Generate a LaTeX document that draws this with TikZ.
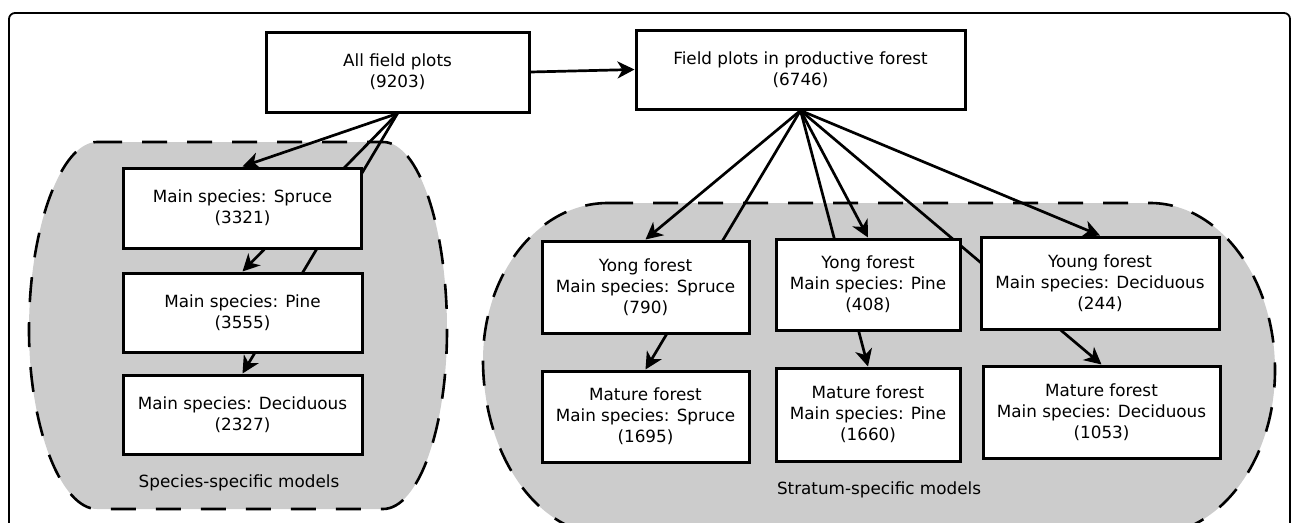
\documentclass[tikz,border=0pt]{standalone}
\usepackage{fontspec}
\setmainfont{DejaVu Sans}
\usetikzlibrary{arrows.meta}
\definecolor{regiongray}{HTML}{CCCCCC}
\pgfdeclarelayer{bg}
\pgfdeclarelayer{edges}
\pgfsetlayers{bg,edges,main}
\begin{document}
\begin{tikzpicture}[x=1pt,y=-1pt,
  font=\fontsize{16.8}{21}\selectfont,
  box/.style={draw, line width=3pt, fill=white, inner sep=0pt, align=center},
  arr/.style={line width=2.7pt, -{Stealth[length=17pt,width=17pt,inset=5pt]}},
  region/.style={fill=regiongray, draw=black, line width=2.6pt, dash pattern=on 25pt off 20pt},
  frame/.style={draw=black, line width=1.8pt, rounded corners=6pt},
  caption/.style={inner sep=0pt}]
\useasboundingbox (0,0) rectangle (1292,522);

\begin{pgfonlayer}{bg}
  \clip (0,0) rectangle (1292,522);
  \path[frame] (9,13) rectangle (1290,560);
  \path[region] (97,142) -- (383,142)
    .. controls (418.3,142) and (447,226.2) .. (447,330)
    .. controls (447,428.9) and (418.3,509) .. (383,509)
    -- (97,509)
    .. controls (61.7,509) and (29,428.9) .. (29,330)
    .. controls (29,226.2) and (61.7,142) .. (97,142) -- cycle;
  \path[region] (608,203) -- (1150,203)
    .. controls (1219,203) and (1275,277.8) .. (1275,370)
    .. controls (1275,461.1) and (1219,535) .. (1150,535)
    -- (608,535)
    .. controls (539,535) and (483,456.7) .. (483,360)
    .. controls (483,273.3) and (539,203) .. (608,203) -- cycle;
\end{pgfonlayer}

\node[box, minimum width=263pt, minimum height=80pt] (all) at (397.5,72) {All field plots\\(9203)};
\node[box, minimum width=329pt, minimum height=79pt] (prod) at (800.5,69.5) {Field plots in productive forest\\(6746)};

\node[box, minimum width=238pt, minimum height=80pt] (spruce) at (242.5,208) {Main species: Spruce\\(3321)};
\node[box, minimum width=239pt, minimum height=79pt] (pine) at (242.5,312.5) {Main species: Pine\\(3555)};
\node[box, minimum width=239pt, minimum height=79pt] (decid) at (242.5,414.5) {Main species: Deciduous\\(2327)};

\node[box, minimum width=207pt, minimum height=92pt] (ys) at (645.5,287) {Yong forest\\Main species: Spruce\\(790)};
\node[box, minimum width=207pt, minimum height=91pt] (ms) at (645.5,416.5) {Mature forest\\Main species: Spruce\\(1695)};
\node[box, minimum width=184pt, minimum height=91pt] (yp) at (868,284.5) {Yong forest\\Main species: Pine\\(408)};
\node[box, minimum width=184pt, minimum height=93pt] (mp) at (868,414.5) {Mature forest\\Main species: Pine\\(1660)};
\node[box, minimum width=238pt, minimum height=92pt] (yd) at (1100,283) {Young forest\\Main species: Deciduous\\(244)};
\node[box, minimum width=237pt, minimum height=92pt] (md) at (1101.5,412) {Mature forest\\Main species: Deciduous\\(1053)};

\node[caption] (speciescap) at (239,483) {Species-specific models};
\node[caption] (stratumcap) at (879,490) {Stratum-specific models};

\begin{pgfonlayer}{edges}
  \draw[arr] (all.east) -- (prod.west);
  \draw[arr] (all.south) -- (spruce.north);
  \draw[arr] (all.south) -- (pine.north);
  \draw[arr] (all.south) -- (decid.north);
  \draw[arr] (prod.south) -- (ys.north);
  \draw[arr] (prod.south) -- (ms.north);
  \draw[arr] (prod.south) -- (yp.north);
  \draw[arr] (prod.south) -- (mp.north);
  \draw[arr] (prod.south) -- (yd.north);
  \draw[arr] (prod.south) -- (md.north);
\end{pgfonlayer}
\end{tikzpicture}
\end{document}
